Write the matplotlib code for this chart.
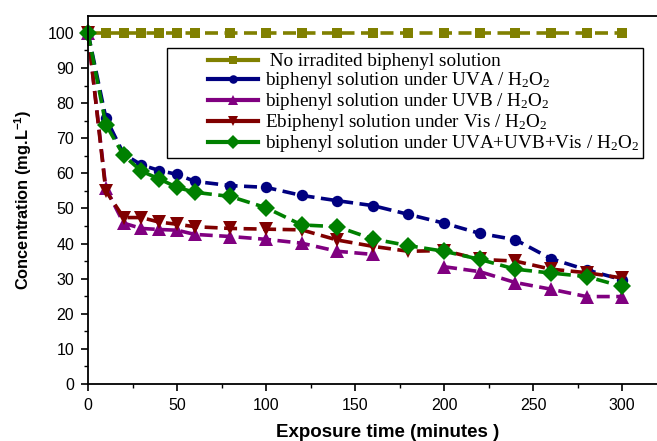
import numpy as np
import matplotlib
matplotlib.use('Agg')
import matplotlib.pyplot as plt
from matplotlib.lines import Line2D
from matplotlib.patches import Rectangle
from matplotlib.ticker import MultipleLocator

# Exposure time (minutes)
time = [0, 10, 20, 30, 40, 50, 60, 80, 100, 120, 140, 160, 180, 200, 220, 240, 260, 280, 300]

# Concentration (mg/L)
no_irradiated = [100] * len(time)
uva = [100, 75.8, 65.5, 62.4, 60.8, 59.7, 57.7, 56.5, 56.0, 53.7, 52.2, 50.8, 48.3, 45.8, 42.9, 41.1, 35.7, 32.5, 29.7]
uvb = [100, 55.8, 45.8, 44.3, 44.0, 43.8, 42.6, 42.0, 41.2, 40.1, 37.8, 36.9, np.nan, 33.4, 32.0, 28.9, 27.0, 24.9, 24.9]
vis = [100, 55.0, 47.4, 47.4, 46.1, 45.5, 44.8, 44.3, 44.1, 43.9, 41.0, 39.2, 37.8, 38.0, 35.5, 35.0, 32.7, 31.7, 30.2]
mix = [100, 73.9, 65.1, 60.6, 58.4, 56.0, 54.6, 53.4, 50.2, 45.3, 44.8, 41.3, 39.4, 37.8, 35.5, 32.7, 31.6, 30.6, 27.8]

labels = [' No irradited biphenyl solution',
          r'biphenyl solution under UVA / H$\mathregular{_2}$O$\mathregular{_2}$',
          r'biphenyl solution under UVB / H$\mathregular{_2}$O$\mathregular{_2}$',
          r'Ebiphenyl solution under Vis / H$\mathregular{_2}$O$\mathregular{_2}$',
          r'biphenyl solution under UVA+UVB+Vis / H$\mathregular{_2}$O$\mathregular{_2}$']
colors = ['#808000', '#000080', '#800080', '#800000', '#008000']
markers = ['s', 'o', '^', 'v', 'D']
msizes = [7, 8.2, 10, 10, 9]
series = [no_irradiated, uva, uvb, vis, mix]

plt.rcParams['font.family'] = ['Liberation Sans', 'DejaVu Sans']

W, H = 657, 441
fig = plt.figure(figsize=(W / 100, H / 100), dpi=100)
ax = fig.add_axes([88 / W, 57 / H, 600 / W, 368 / H])

for y, c, m, ms in zip(series, colors, markers, msizes):
    ax.plot(time, y, color=c, marker=m, markersize=ms, linewidth=2.6,
            dashes=(3.6, 1.8), markeredgewidth=0, clip_on=False)

ax.set_xlim(0, 337)
ax.set_ylim(0, 104.8)
ax.xaxis.set_major_locator(MultipleLocator(50))
ax.xaxis.set_minor_locator(MultipleLocator(25))
ax.yaxis.set_major_locator(MultipleLocator(10))
ax.yaxis.set_minor_locator(MultipleLocator(5))
ax.tick_params(which='major', direction='out', length=5, width=1.2, labelsize=11.5, pad=5)
ax.tick_params(which='minor', direction='out', length=3, width=1.0)
for s in ax.spines.values():
    s.set_linewidth(1.3)

ax.set_xlabel('Exposure time (minutes )', fontsize=13.5, fontweight='bold', labelpad=8)
ax.set_ylabel('Concentration (mg.L$^{\\mathregular{-1}}$)', fontsize=11.8, fontweight='bold', labelpad=10)

# legend frame (Origin style, with empty space left of the handles)
fig.patches.append(Rectangle((167 / W, 1 - 158 / H), 476 / W, 110 / H, transform=fig.transFigure,
                             facecolor='white', edgecolor='black', linewidth=1.0, zorder=5))

handles = [Line2D([0], [0], color=c, marker=m, markersize=ms * 0.75, linewidth=3,
                  markeredgewidth=0)
           for c, m, ms in zip(colors, markers, msizes)]
leg = fig.legend(handles, labels, loc='upper left', bbox_to_anchor=(208 / W, 1 - 53 / H),
                 prop={'family': 'Liberation Serif', 'size': 13.8}, frameon=False,
                 handlelength=2.6, handletextpad=0.36,
                 labelspacing=0.0, borderpad=0, borderaxespad=0)
leg.set_zorder(6)

fig.savefig('out.png', dpi=100)
